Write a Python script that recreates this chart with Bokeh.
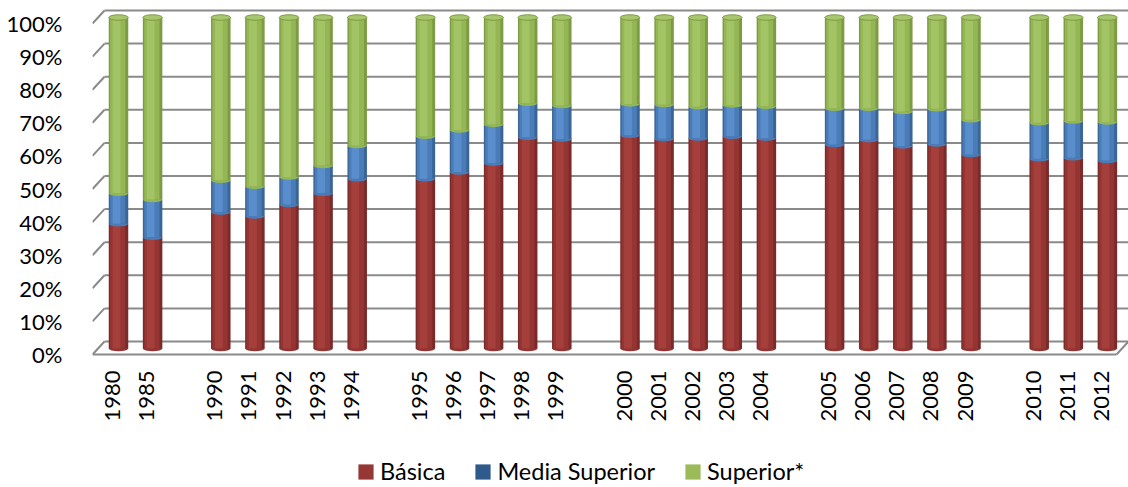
import math
import numpy as np
from bokeh.plotting import figure
from bokeh.models import (Range1d, LinearAxis, FixedTicker, NumeralTickFormatter,
                          Legend, LegendItem, ColumnDataSource)
from bokeh.core.properties import value
from bokeh.embed import file_html
from bokeh.resources import INLINE

# ---------------- data ----------------
groups = [
    ["1980", "1985"],
    ["1990", "1991", "1992", "1993", "1994"],
    ["1995", "1996", "1997", "1998", "1999"],
    ["2000", "2001", "2002", "2003", "2004"],
    ["2005", "2006", "2007", "2008", "2009"],
    ["2010", "2011", "2012"],
]
basica = [37.7, 33.6, 41.2, 40.0, 43.5, 46.9, 51.3, 51.3, 53.3, 56.0, 63.8, 63.3,
          64.4, 63.4, 63.6, 64.1, 63.6, 61.6, 63.1, 61.2, 61.8, 58.6, 57.3, 57.6, 56.8]
media_superior = [9.2, 11.4, 9.6, 9.0, 8.3, 8.4, 10.0, 12.8, 12.7, 11.7, 10.3, 10.1,
                  9.5, 10.3, 9.5, 9.5, 9.6, 11.0, 9.5, 10.4, 10.6, 10.5, 10.9, 11.1, 11.6]
superior = [53.1, 55.0, 49.2, 51.0, 48.2, 44.7, 38.7, 35.9, 34.0, 32.3, 25.9, 26.6,
            26.1, 26.3, 26.9, 26.4, 26.8, 27.4, 27.4, 28.4, 27.6, 30.9, 31.8, 31.3, 31.6]
series_names = ["Básica", "Media Superior", "Superior*"]
y_ticks = [0.0, 0.1, 0.2, 0.3, 0.4, 0.5, 0.6, 0.7, 0.8, 0.9, 1.0]

# slot positions: one empty slot between groups
years, positions = [], []
slot = 0
for g in groups:
    for yr in g:
        years.append(yr)
        positions.append(slot)
        slot += 1
    slot += 1
pos = np.array(positions, dtype=float)

# ---------------- geometry ----------------
W, H = 1128, 487
LEFT = 92
PX_X = 34.1      # pixels per slot
PX_Y = 331.0     # pixels per 100%
ZERO_Y = 348     # canvas y of the 0% level of the bars
FRAME_W = W - LEFT
x0 = -26 / PX_X
x1 = x0 + FRAME_W / PX_X
y0 = -(H - ZERO_Y) / PX_Y
y1 = y0 + H / PX_Y
DEPTH_DX = 12 / PX_X
BACK_DY = 7 / PX_Y
FRONT_DY = 6 / PX_Y
BAR_W = 19.5 / PX_X
ELL_H = 5.5 / PX_Y
LABEL_GAP = 16 / PX_Y

FONT = "Lato"

p = figure(width=W, height=H, x_range=Range1d(x0, x1), y_range=Range1d(y0, y1),
           output_backend="svg", toolbar_location=None,
           x_axis_location=None, y_axis_location=None,
           min_border_left=LEFT, min_border_right=0, min_border_top=0, min_border_bottom=0)
p.xgrid.visible = False
p.ygrid.visible = False
p.outline_line_color = None
p.background_fill_color = "white"
p.border_fill_color = "white"

# ---------------- 3D frame (walls / floor) ----------------
GRID_C = "#8A8A8A"
n = len(y_ticks)
p.segment(x0=[x0] * n, y0=[v - FRONT_DY for v in y_ticks],
          x1=[x0 + DEPTH_DX] * n, y1=[v + BACK_DY for v in y_ticks],
          line_color=GRID_C, line_width=2)
p.segment(x0=[x0 + DEPTH_DX] * n, y0=[v + BACK_DY for v in y_ticks],
          x1=[x1] * n, y1=[v + BACK_DY for v in y_ticks],
          line_color=GRID_C, line_width=2)
p.segment(x0=[x0], y0=[y_ticks[0] - FRONT_DY], x1=[x1 - DEPTH_DX], y1=[y_ticks[0] - FRONT_DY],
          line_color=GRID_C, line_width=2)
p.segment(x0=[x1 - DEPTH_DX], y0=[y_ticks[0] - FRONT_DY], x1=[x1], y1=[y_ticks[0] + BACK_DY],
          line_color=GRID_C, line_width=2)

# ---------------- cylinders ----------------
b = np.array(basica) / 100
m = np.array(media_superior) / 100
s = np.array(superior) / 100
bottoms = [np.zeros_like(b), b, b + m]
tops = [b, b + m, b + m + s]
palettes = [
    ("#7A2A28", "#953533", "#A43F3C"),   # red
    ("#3A6597", "#4A7CB8", "#5A8DCB"),   # blue
    ("#7D9B44", "#94B654", "#A3C464"),   # green
]
for (edge, mid, hi), bot, top in zip(palettes, bottoms, tops):
    p.ellipse(x=pos, y=bot, width=BAR_W, height=ELL_H, fill_color=mid, line_color=None)
    p.vbar(x=pos, bottom=bot, top=top, width=BAR_W, fill_color=edge, line_color=None)
    p.vbar(x=pos - 0.04 * BAR_W, bottom=bot, top=top, width=0.78 * BAR_W, fill_color=mid, line_color=None)
    p.vbar(x=pos - 0.1 * BAR_W, bottom=bot, top=top, width=0.4 * BAR_W, fill_color=hi, line_color=None)
p.ellipse(x=pos, y=tops[2], width=BAR_W, height=ELL_H, fill_color="#A8C66C",
          line_color="#7D9B44", line_width=1)

# ---------------- axes ----------------
p.extra_y_ranges = {"front": Range1d(y0 + FRONT_DY, y1 + FRONT_DY)}

yax = LinearAxis(y_range_name="front", ticker=FixedTicker(ticks=y_ticks),
                 formatter=NumeralTickFormatter(format="0%"))
yax.axis_line_color = None
yax.major_tick_line_color = None
yax.minor_tick_line_color = None
yax.major_label_standoff = 24
yax.major_label_text_font = FONT
yax.major_label_text_font_size = "22px"
yax.major_label_text_color = "#000000"
p.add_layout(yax, "left")

# category labels (vertical, on the front plane of the floor)
lab_src = ColumnDataSource(dict(x=pos - DEPTH_DX / 2,
                                y=np.full(len(pos), y_ticks[0] - FRONT_DY - LABEL_GAP),
                                text=years))
p.text(x="x", y="y", text="text", source=lab_src, angle=math.pi / 2,
       text_align="right", text_baseline="middle",
       text_font=value(FONT), text_font_size="22px", text_color="#000000")

# ---------------- legend ----------------
legend_colors = ["#953735", "#2F5A8C", "#9BBB59"]
items = []
for name, col in zip(series_names, legend_colors):
    r = p.vbar(x=[x0 - 10], bottom=[0], top=[0], width=0.5, fill_color=col, line_color=None)
    items.append(LegendItem(label=name, renderers=[r]))
legend = Legend(items=items, orientation="horizontal", location=(356 - LEFT, 2),
                glyph_width=19, glyph_height=19, label_standoff=5, spacing=28,
                padding=0, margin=0, border_line_color=None, background_fill_alpha=0,
                label_text_font=FONT, label_text_font_size="23.5px", label_text_color="#000000")
p.add_layout(legend)

open("out.html", "w").write(file_html(p, INLINE))
